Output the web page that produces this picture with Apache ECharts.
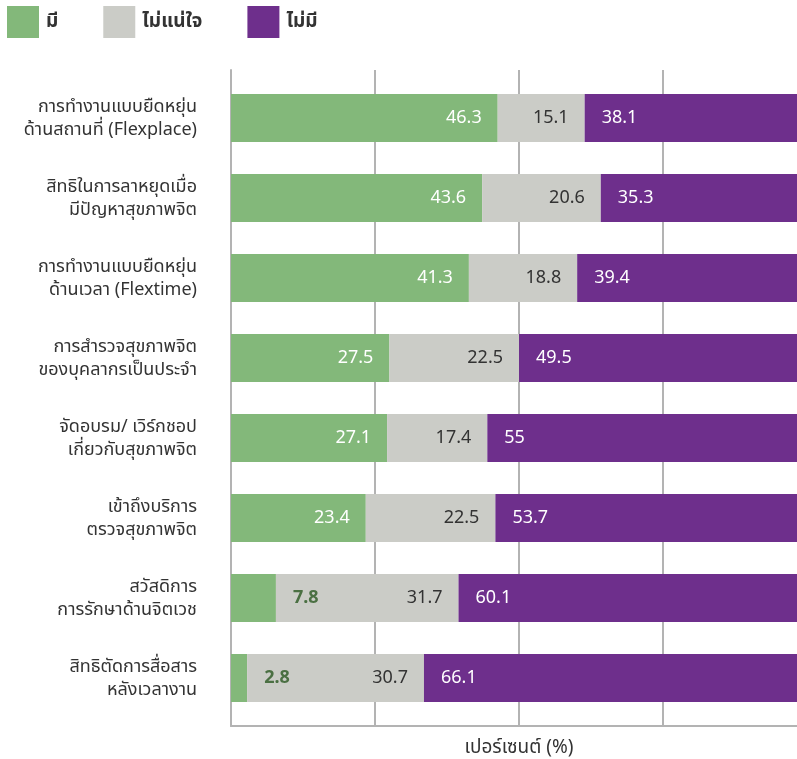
<!DOCTYPE html>
<html>
<head>
<meta charset="utf-8">
<script src="https://cdn.jsdelivr.net/npm/echarts@6/dist/echarts.min.js"></script>
<style>
  html, body { margin: 0; padding: 0; background: #fff; }
  #chart { width: 797px; height: 759px; }
</style>
</head>
<body>
<div id="chart"></div>
<script>
// Workplace mental-health measures: share of respondents (%)
const categories = [
  'การทำงานแบบยืดหยุ่น\nด้านสถานที่ (Flexplace)',
  'สิทธิในการลาหยุดเมื่อ\nมีปัญหาสุขภาพจิต',
  'การทำงานแบบยืดหยุ่น\nด้านเวลา (Flextime)',
  'การสำรวจสุขภาพจิต\nของบุคลากรเป็นประจำ',
  'จัดอบรม/ เวิร์กชอป\nเกี่ยวกับสุขภาพจิต',
  'เข้าถึงบริการ\nตรวจสุขภาพจิต',
  'สวัสดิการ\nการรักษาด้านจิตเวช',
  'สิทธิตัดการสื่อสาร\nหลังเวลางาน'
];
const seriesNames = ['มี', 'ไม่แน่ใจ', 'ไม่มี'];
const hasValues = [46.3, 43.6, 41.3, 27.5, 27.1, 23.4, 7.8, 2.8];
const unsureValues = [15.1, 20.6, 18.8, 22.5, 17.4, 22.5, 31.7, 30.7];
const notValues = [38.1, 35.3, 39.4, 49.5, 55, 53.7, 60.1, 66.1];
const axisName = 'เปอร์เซนต์ (%)';

const FONT = '"Noto Sans", "Noto Sans Thai", sans-serif';
const colors = { has: '#83b87a', unsure: '#cbccc7', not: '#6e2f8c' };

const chart = echarts.init(document.getElementById('chart'), null, { renderer: 'canvas' });

// Short green bars carry their label just outside the bar end
const hasData = hasValues.map(v => v < 10
  ? { value: v, label: { position: 'right', distance: 17, color: '#4b7043', fontWeight: 'bold' } }
  : v);

const labelBase = { show: true, fontSize: 18, fontFamily: FONT, distance: 16 };

// The value scale runs past the right edge of the canvas, so bars are clipped there
const plotGrid = { left: 231, width: 576, outerBoundsMode: 'none', containLabel: false };

chart.setOption({
  animation: false,
  legend: {
    left: 7, top: 6, padding: 0,
    itemWidth: 32, itemHeight: 32, itemGap: 45,
    icon: 'rect',
    textStyle: { fontSize: 19, fontWeight: 'bold', color: '#333', fontFamily: FONT, padding: [0, 0, 0, 2] },
    data: seriesNames
  },
  grid: [
    Object.assign({ top: 78, height: 640 }, plotGrid),
    Object.assign({ top: 70, height: 656 }, plotGrid)
  ],
  xAxis: [
    { gridIndex: 0, type: 'value', min: 0, max: 100, interval: 25, show: false },
    {
      gridIndex: 1, type: 'value', min: 0, max: 100, interval: 25,
      name: axisName, nameLocation: 'middle', nameGap: 12,
      nameTextStyle: { fontSize: 19, color: '#333', fontFamily: FONT, verticalAlign: 'top' },
      axisLine: { show: true, lineStyle: { color: '#b3b3b3', width: 2 } },
      axisTick: { show: false }, axisLabel: { show: false },
      splitLine: { show: true, lineStyle: { color: '#b3b3b3', width: 2 } }
    }
  ],
  yAxis: [
    {
      gridIndex: 0, type: 'category', inverse: true, data: categories,
      axisLine: { show: false }, axisTick: { show: false }, splitLine: { show: false },
      axisLabel: { fontSize: 18, color: '#333', lineHeight: 23, margin: 34, fontFamily: FONT, align: 'right' }
    },
    {
      gridIndex: 1, type: 'value', min: 0, max: 1,
      axisLine: { show: true, lineStyle: { color: '#b3b3b3', width: 2 } },
      axisTick: { show: false }, axisLabel: { show: false }, splitLine: { show: false }
    }
  ],
  series: [
    {
      name: seriesNames[0], type: 'bar', stack: 'total', barWidth: 48,
      xAxisIndex: 0, yAxisIndex: 0,
      itemStyle: { color: colors.has },
      label: Object.assign({}, labelBase, { position: 'insideRight', color: '#fff' }),
      data: hasData
    },
    {
      name: seriesNames[1], type: 'bar', stack: 'total', barWidth: 48,
      xAxisIndex: 0, yAxisIndex: 0,
      itemStyle: { color: colors.unsure },
      label: Object.assign({}, labelBase, { position: 'insideRight', color: '#333' }),
      data: unsureValues
    },
    {
      name: seriesNames[2], type: 'bar', stack: 'total', barWidth: 48,
      xAxisIndex: 0, yAxisIndex: 0,
      itemStyle: { color: colors.not },
      label: Object.assign({}, labelBase, { position: 'insideLeft', color: '#fff', distance: 17 }),
      data: notValues
    }
  ]
});
</script>
</body>
</html>
